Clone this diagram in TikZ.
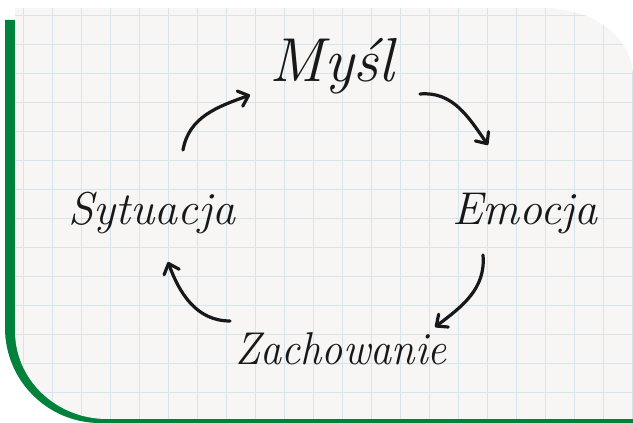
\documentclass[tikz,border=0pt]{standalone}
\usepackage{fontspec}
\usetikzlibrary{arrows.meta}
\definecolor{cardgreen}{RGB}{0,130,60}
\definecolor{cardfill}{RGB}{248,246,244}
\definecolor{gridblue}{RGB}{214,228,236}
\definecolor{ink}{RGB}{22,24,26}
\tikzset{
  word/.style={anchor=base, text=ink, inner sep=0pt, font=\fontsize{46}{46}\selectfont\itshape},
  cyclearrow/.style={draw=ink, line width=3.2pt, line cap=round,
    -{Straight Barb[length=9pt,width=16pt,line width=3.2pt,round]}}
}
\begin{document}
\begin{tikzpicture}[x=1pt,y=1pt]
\useasboundingbox (0,0) rectangle (633,423);
% green border
\fill[cardgreen] (5,403) -- (5,95) arc[start angle=180,end angle=270,radius=95] -- (633,0)
  -- (633,300) -- (15,300) -- (15,403) -- cycle;
% card
\path[fill=cardfill] (15,415) -- (545,415) arc[start angle=90,end angle=0,x radius=88,y radius=68]
  -- (633,4) -- (107,4) arc[start angle=270,end angle=180,x radius=92,y radius=88] -- cycle;
\begin{scope}
\clip (15,415) -- (545,415) arc[start angle=90,end angle=0,x radius=88,y radius=68]
  -- (633,4) -- (107,4) arc[start angle=270,end angle=180,x radius=92,y radius=88] -- cycle;
\foreach \i in {0,...,21} \draw[gridblue, line width=1pt] (23+29*\i,0) -- (23+29*\i,423);
\foreach \j in {0,...,14} \draw[gridblue, line width=1pt] (0,407-29*\j) -- (633,407-29*\j);
\end{scope}
% words
\node[word, scale=1.35] (mysl) at (332,341) {Myśl};
\node[word] (sytuacja) at (152,198) {Sytuacja};
\node[word] (emocja) at (525,198) {Emocja};
\node[word, xscale=0.92] (zachowanie) at (341,58) {Zachowanie};
% arrow end points
\coordinate (a1s) at (183,273); \coordinate (a1e) at (250,328);
\coordinate (a2s) at (420,329); \coordinate (a2e) at (488,278);
\coordinate (a3s) at (483,168); \coordinate (a3e) at (435,96);
\coordinate (a4s) at (230,102); \coordinate (a4e) at (168,161);
\draw[cyclearrow] (a1s) to[out=80,in=200] (a1e);
\draw[cyclearrow] (a2s) to[out=5,in=125] (a2e);
\draw[cyclearrow] (a3s) to[out=-85,in=37] (a3e);
\draw[cyclearrow] (a4s) to[out=180,in=-70] (a4e);
\end{tikzpicture}
\end{document}
